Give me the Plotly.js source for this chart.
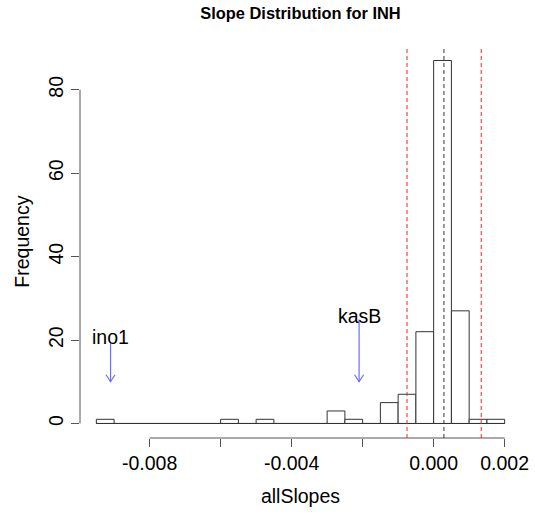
<!DOCTYPE html>
<html>
<head>
<meta charset="utf-8">
<script src="https://cdn.plot.ly/plotly-3.0.1.min.js"></script>
<style>html,body{margin:0;padding:0;background:#fff;}#chart{width:535px;height:514px;}</style>
</head>
<body>
<div id="chart"></div>
<script>
// Histogram bins (left edges) and counts
const binLeft = [-0.0095,-0.0090,-0.0085,-0.0080,-0.0075,-0.0070,-0.0065,-0.0060,-0.0055,-0.0050,-0.0045,-0.0040,-0.0035,-0.0030,-0.0025,-0.0020,-0.0015,-0.0010,-0.0005,0.0000,0.0005,0.0010,0.0015];
const counts  = [1,0,0,0,0,0,0,1,0,1,0,0,0,3,1,0,5,7,22,87,27,1,1];
const binWidth = 0.0005;

// Reference lines
const redLines = [-0.00075, 0.00134];
const blackLine = 0.00029;

// Labelled genes
const geneNames = ["ino1", "kasB"];
const geneX = [-0.0091, -0.0021];
const arrowTail = [19.4, 24.9];
const arrowTip = [10, 10];
const labelY = [20.8, 25.8];

// Axis ticks
const xTickVals = [-0.008, -0.006, -0.004, -0.002, 0.000, 0.002];
const xTickText = ["-0.008", "", "-0.004", "", "0.000", "0.002"];
const yTickVals = [0, 20, 40, 60, 80];
const yTickText = ["0", "20", "40", "60", "80"];

const FONT = "Liberation Sans, Arial, Helvetica, sans-serif";

const binCenters = binLeft.map(v => v + binWidth / 2);
const lastEdge = binLeft[binLeft.length - 1] + binWidth;

const trace = {
  type: "bar",
  x: binCenters,
  y: counts,
  width: binWidth,
  marker: {color: "#ffffff", line: {color: "#333333", width: 1}},
  hoverinfo: "x+y"
};

const ARROW = "#6b6bff";
const shapes = [];
// baseline of histogram
shapes.push({type: "line", xref: "x", yref: "y", x0: binLeft[0], x1: lastEdge, y0: 0, y1: 0,
  line: {color: "#333333", width: 1}});
// axis lines (R style, spanning first to last tick)
shapes.push({type: "line", xref: "x", yref: "paper", x0: xTickVals[0], x1: xTickVals[xTickVals.length-1], y0: 0, y1: 0,
  line: {color: "#555555", width: 1}});
shapes.push({type: "line", xref: "paper", yref: "y", x0: 0, x1: 0, y0: yTickVals[0], y1: yTickVals[yTickVals.length-1],
  line: {color: "#555555", width: 1}});
redLines.forEach(v => shapes.push({type: "line", xref: "x", yref: "paper", x0: v, x1: v, y0: 0, y1: 1,
  line: {color: "#ff2020", width: 1, dash: "4px,3px"}}));
shapes.push({type: "line", xref: "x", yref: "paper", x0: blackLine, x1: blackLine, y0: 0, y1: 1,
  line: {color: "#333333", width: 1, dash: "4px,3px"}});
// gene arrows: shaft + open V head
geneNames.forEach((g, i) => {
  shapes.push({type: "line", xref: "x", yref: "y", x0: geneX[i], x1: geneX[i], y0: arrowTail[i], y1: arrowTip[i],
    line: {color: ARROW, width: 1.2}});
  shapes.push({type: "path", xref: "x", yref: "y", xsizemode: "pixel", ysizemode: "pixel",
    xanchor: geneX[i], yanchor: arrowTip[i], path: "M-4.5,7L0,0L4.5,7",
    line: {color: ARROW, width: 1.2}});
});

const annotations = [];
geneNames.forEach((g, i) => {
  annotations.push({x: geneX[i], y: labelY[i], xref: "x", yref: "y", text: g, showarrow: false,
    font: {family: FONT, size: 19.5, color: "#000"}, xanchor: "center", yanchor: "middle"});
});
// y axis title placed like R's mtext
annotations.push({xref: "paper", yref: "paper", x: 0, y: 0.5, xshift: -58.3, text: "Frequency",
  textangle: -90, showarrow: false, xanchor: "center", yanchor: "middle",
  font: {family: FONT, size: 19.5, color: "#000"}});

const layout = {
  width: 535, height: 514,
  margin: {l: 80, r: 14.4, t: 45.8, b: 75.5, pad: 0},
  paper_bgcolor: "#ffffff", plot_bgcolor: "#ffffff",
  showlegend: false,
  bargap: 0,
  font: {family: FONT, size: 19.5, color: "#000"},
  title: {text: "<b>Slope Distribution for INH</b>", font: {family: FONT, size: 16.4, color: "#000"},
    xref: "paper", x: 0.5, xanchor: "center", yref: "container", y: 1 - 13/514, yanchor: "middle"},
  xaxis: {
    range: [-0.00996, 0.00246], showgrid: false, zeroline: false, showline: false,
    tickmode: "array", tickvals: xTickVals, ticktext: xTickText,
    ticks: "outside", ticklen: 8, tickcolor: "#555555", tickwidth: 1,
    tickfont: {family: FONT, size: 19.5, color: "#000"}, ticklabelstandoff: 0,
    title: {text: "allSlopes", font: {family: FONT, size: 19.5, color: "#000"}, standoff: 15},
    automargin: false
  },
  yaxis: {
    range: [-3.48, 90.48], showgrid: false, zeroline: false, showline: false,
    tickmode: "array", tickvals: yTickVals, ticktext: yTickText, tickangle: -90,
    ticks: "outside", ticklen: 8, tickcolor: "#555555", tickwidth: 1,
    tickfont: {family: FONT, size: 19.5, color: "#000"}, ticklabelstandoff: 11.5,
    automargin: false
  },
  shapes: shapes,
  annotations: annotations
};

Plotly.newPlot("chart", [trace], layout, {displayModeBar: false, staticPlot: true});
</script>
</body>
</html>
